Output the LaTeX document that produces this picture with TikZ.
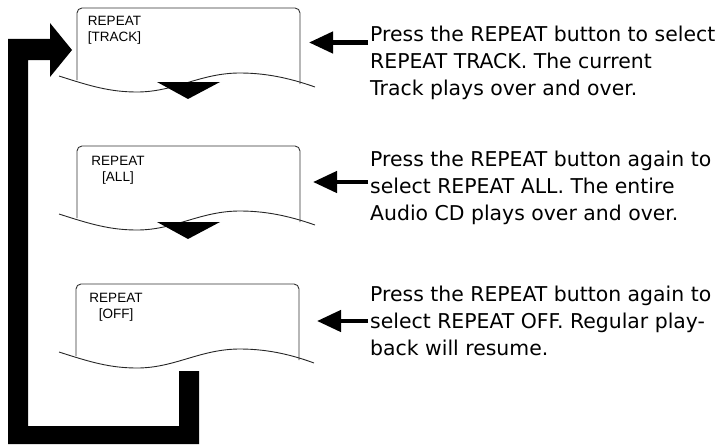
\documentclass[tikz,border=0pt]{standalone}
\usepackage{fontspec}
\setmainfont{Liberation Sans}
\newfontfamily\notefont{DejaVu Sans}
\usetikzlibrary{arrows.meta}

\begin{document}
\begin{tikzpicture}[x=1pt, y=-1pt,
  panel/.style={inner sep=0pt, minimum width=223pt, minimum height=72pt, anchor=north west},
  lcd/.style={draw=black!80, line width=0.9pt, rounded corners=5pt},
  cut/.style={draw=black!85, line width=0.9pt},
  lcdtext/.style={font=\fontsize{13.5}{16}\selectfont, align=center, inner sep=0pt, anchor=north},
  note/.style={font=\notefont\fontsize{20.4}{26.8}\selectfont, align=left, inner sep=0pt, anchor=north west},
  pointer/.style={line width=4.5pt, -{Triangle[length=24pt, width=21pt]}}]
  \useasboundingbox (0,0) rectangle (719,444);

  % the loop back from OFF to TRACK
  \fill[black] (8,39) -- (50,39) -- (50,23) -- (72,50) -- (50,77) -- (50,60) -- (28,60)
    -- (28,426) -- (179,426) -- (179,371) -- (199,371) -- (199,444) -- (8,444) -- cycle;

  % display 1
  \begin{scope}[shift={(77,8)}]
    \node[panel] (lcd1) at (0,0) {};
    \draw[lcd] (0,72) |- (223,0) -- (223,76);
    \draw[cut] (-18,68) .. controls (13,78) and (33,84) .. (60,84)
      .. controls (98,84) and (123,65) .. (163,65) .. controls (193,65) and (218,72) .. (238,79);
    \fill[black] (80,74) -- (143,74) -- (111,91) -- cycle;
    \node[lcdtext] (lbl1) at (37.5,8) {REPEAT\\{[TRACK]}};
  \end{scope}

  % display 2
  \begin{scope}[shift={(77,146)}]
    \node[panel] (lcd2) at (0,0) {};
    \draw[lcd] (0,72) |- (223,0) -- (223,76);
    \draw[cut] (-18,68) .. controls (13,78) and (33,84) .. (60,84)
      .. controls (98,84) and (123,65) .. (163,65) .. controls (193,65) and (218,72) .. (238,79);
    \fill[black] (80,76) -- (143,76) -- (111,93) -- cycle;
    \node[lcdtext] (lbl2) at (41,10) {REPEAT\\{[ALL]}};
  \end{scope}

  % display 3
  \begin{scope}[shift={(76,284)}]
    \node[panel] (lcd3) at (0,0) {};
    \draw[lcd] (0,72) |- (223,0) -- (223,76);
    \draw[cut] (-17,68) .. controls (14,78) and (34,84) .. (61,84)
      .. controls (99,84) and (124,65) .. (164,65) .. controls (194,65) and (219,72) .. (238,79);
    \node[lcdtext] (lbl3) at (40,8.7) {REPEAT\\{[OFF]}};
  \end{scope}

  % explanations
  \node[note] (note1) at (370,26) {Press the REPEAT button to select\\REPEAT TRACK. The current\\Track plays over and over.};
  \node[note] (note2) at (370,151) {Press the REPEAT button again to\\select REPEAT ALL. The entire\\Audio CD plays over and over.};
  \node[note] (note3) at (370,286) {Press the REPEAT button again to\\select REPEAT OFF. Regular play-\\back will resume.};

  \coordinate (tip1) at (309,42.5);
  \coordinate (tip2) at (313,182);
  \coordinate (tip3) at (317,321);
  \draw[pointer] ([xshift=-2pt]note1.west |- tip1) -- (tip1);
  \draw[pointer] ([xshift=-2pt]note2.west |- tip2) -- (tip2);
  \draw[pointer] ([xshift=-2pt]note3.west |- tip3) -- (tip3);
\end{tikzpicture}
\end{document}
